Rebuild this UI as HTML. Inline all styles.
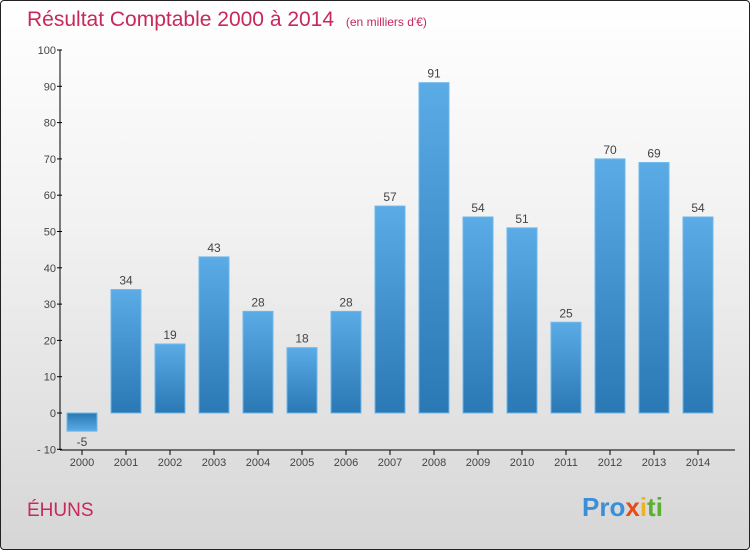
<!DOCTYPE html>
<html><head><meta charset="utf-8"><style>
body{margin:0;width:750px;height:550px;overflow:hidden;font-family:"Liberation Sans",sans-serif}
#wrap{position:absolute;left:0;top:0;width:748px;height:548px;border:1px solid #222;border-radius:4px;background:linear-gradient(#ffffff,#f2f2f2 40%,#d6d6d6)}
</style></head><body>
<div id="wrap">
<svg width="750" height="550" style="position:absolute;left:-1px;top:-1px">
<defs>
<linearGradient id="gp" x1="0" y1="0" x2="0" y2="1"><stop offset="0" stop-color="#5aabe6"/><stop offset="1" stop-color="#2a78b4"/></linearGradient>
<linearGradient id="gn" x1="0" y1="0" x2="0" y2="1"><stop offset="0" stop-color="#2a78b4"/><stop offset="1" stop-color="#5aabe6"/></linearGradient>
</defs>
<text x="27" y="26" font-size="21" fill="#c8285a">Résultat Comptable 2000 à 2014 <tspan font-size="12" dx="6">(en milliers d'€)</tspan></text>
<g id="axes"></g>
<g id="bars"></g>
<text x="27" y="516" font-size="19" fill="#c8285a">ÉHUNS</text>
<text x="582" y="516" font-size="26" font-weight="bold"><tspan fill="#3a8fd8">Pro</tspan><tspan fill="#e84a1a">x</tspan><tspan fill="#f0b020">i</tspan><tspan fill="#5ab030">ti</tspan></text>
</svg></div>
<script>
const years=["2000","2001","2002","2003","2004","2005","2006","2007","2008","2009","2010","2011","2012","2013","2014"];
const values=[-5,34,19,43,28,18,28,57,91,54,51,25,70,69,54];
const yTicks=[-10,0,10,20,30,40,50,60,70,80,90,100];
const NS="http://www.w3.org/2000/svg";
const y=v=>413-v*3.63;
const x=i=>82+i*44;
const ax=document.getElementById('axes'),bg=document.getElementById('bars');
function mk(t,a,p){const e=document.createElementNS(NS,t);for(const k in a)e.setAttribute(k,a[k]);p.appendChild(e);return e;}
const yl=mk('line',{x1:60,y1:50,x2:60,y2:450,stroke:'#000'},ax);


const xl=mk('line',{x1:60,y1:450,x2:735,y2:450,stroke:'#000'},ax);


yTicks.forEach(v=>{
 mk('line',{x1:57,x2:62,y1:y(v),y2:y(v),stroke:'#000'},ax);
 const t=mk('text',{x:56,y:y(v)+4,'text-anchor':'end','font-size':11,fill:'#444'},ax);t.textContent=v===-10?'- 10':v;
 
 
});
years.forEach((yr,i)=>{
 mk('line',{x1:x(i),x2:x(i),y1:450,y2:455,stroke:'#000'},ax);
 const t=mk('text',{x:x(i),y:466,'text-anchor':'middle','font-size':11,fill:'#444'},ax);t.textContent=yr;
 
 
 const v=values[i],top=Math.min(y(v),y(0)),h=Math.abs(y(v)-y(0));
 const r=mk('rect',{x:x(i)-15,y:top,width:30,height:h,fill:v<0?'url(#gn)':'url(#gp)',stroke:'#6fb8ea','stroke-width':1},bg);
 
 
 const l=mk('text',{x:x(i),y:v<0?y(v)+15:y(v)-5,'text-anchor':'middle','font-size':12,fill:'#444'},bg);l.textContent=v;
 
 
});
</script>
</body></html>
